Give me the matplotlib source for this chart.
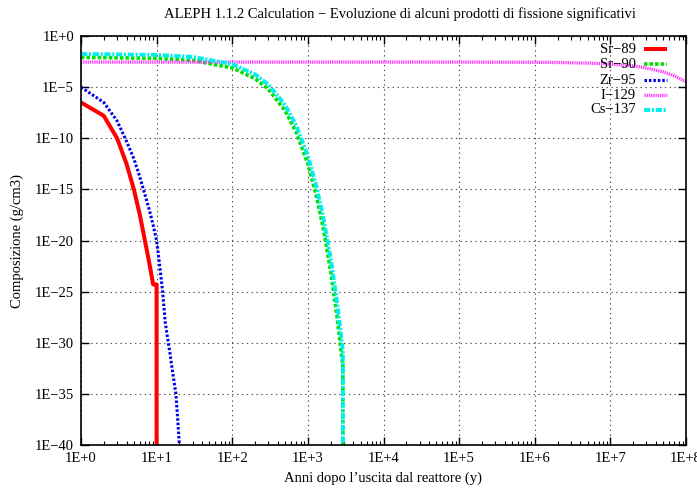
import numpy as np
import matplotlib
matplotlib.use("Agg")
import matplotlib.pyplot as plt
from matplotlib.ticker import FixedLocator, FuncFormatter, LogLocator, NullFormatter
from matplotlib.lines import Line2D

plt.rcParams['font.family'] = ['Liberation Serif', 'DejaVu Serif']
plt.rcParams['lines.scale_dashes'] = False

# anni dopo l'uscita dal reattore, log10 della composizione
sr89_t = [1, 2, 3, 4, 5, 6, 7, 8, 9, 10, 10]
sr89_y = [-6.5, -7.8, -10.0, -12.5, -15.0, -17.5, -20.0, -22.2, -24.3, -24.3, -45]

zr95_t = [1, 2, 3, 4, 5, 6, 7, 8, 9, 10, 11, 12, 13, 14, 15, 16, 17, 18, 19, 20]
zr95_y = [-5.0, -6.5, -8.3, -10.3, -12.0, -13.8, -15.5, -17.0, -18.5, -20.0,
          -22.5, -25.0, -28.0, -29.6, -31.0, -32.5, -33.8, -35.0, -37.5, -40.0]

sr90_t = [1, 10, 30, 100, 200, 300, 500, 700, 1000, 1300, 1600, 2000, 2400, 2900, 2900]
sr90_y = [-2.09, -2.18, -2.39, -3.12, -4.17, -5.2, -7.3, -9.4, -12.5, -15.7,
          -18.8, -23.0, -27.1, -32.3, -45]

cs137_t = [1, 10, 30, 100, 200, 300, 500, 700, 1000, 1300, 1600, 2000, 2400, 2900, 2900]
cs137_y = [-1.76, -1.85, -2.05, -2.75, -3.75, -4.75, -6.75, -8.75, -11.75, -14.75,
           -17.75, -21.75, -25.75, -30.75, -45]

i129_t = [1, 1e4, 1e5, 1e6, 2e6, 5e6, 1e7, 2e7, 3e7, 5e7, 7e7, 1e8]
i129_y = [-2.55, -2.55, -2.55, -2.57, -2.59, -2.65, -2.74, -2.93, -3.13, -3.51, -3.89, -4.47]

labels = ['Sr\u221289', 'Sr\u221290', 'Zr\u221295', 'I\u2212129', 'Cs\u2212137']
colors = ['#ff0000', '#00e000', '#0000ee', '#ff33ff', '#00eeee']
styles = [dict(lw=2.9, ls='-'),
          dict(lw=2.6, ls=(0, (2.5, 1.5))),
          dict(lw=2.2, ls=(0, (1.8, 1.4))),
          dict(lw=2.4, ls=(0, (0.9, 0.7))),
          dict(lw=2.8, ls=(0, (4.5, 1.2, 1.5, 1.2)))]

series = [(sr89_t, sr89_y), (sr90_t, sr90_y), (zr95_t, zr95_y),
          (i129_t, i129_y), (cs137_t, cs137_y)]

FS = 10.5

fig = plt.figure(figsize=(6.97, 4.88), dpi=100)
ax = fig.add_axes([81 / 697, 1 - 445 / 488, 605 / 697, 409 / 488])

for (t, y), c, st in zip(series, colors, styles):
    ax.plot(t, 10.0 ** np.array(y), color=c, solid_capstyle='butt',
            dash_capstyle='butt', **st)

ax.set_xscale('log')
ax.set_yscale('log')
ax.set_xlim(1, 1e8)
ax.set_ylim(1e-40, 1)

ax.xaxis.set_major_locator(FixedLocator([10.0 ** k for k in range(0, 9)]))
ax.xaxis.set_minor_locator(LogLocator(base=10, subs=np.arange(2, 10), numticks=20))
ax.xaxis.set_minor_formatter(NullFormatter())
ax.yaxis.set_major_locator(FixedLocator([10.0 ** k for k in range(-40, 1, 5)]))
ax.yaxis.set_minor_locator(FixedLocator([]))


def fmt(v, pos):
    e = int(round(np.log10(v)))
    return '1E+%d' % e if e >= 0 else '1E\u2212%d' % (-e)


ax.xaxis.set_major_formatter(FuncFormatter(fmt))
ax.yaxis.set_major_formatter(FuncFormatter(fmt))
ax.tick_params(which='both', direction='in', top=True, right=True, labelsize=FS, pad=5)
ax.tick_params(which='major', length=6, width=1)
ax.tick_params(which='minor', length=3, width=0.8)

ax.grid(True, which='major', color='#505050', lw=0.8, ls=(0, (1, 2.5)))
for s in ax.spines.values():
    s.set_linewidth(1.2)

ax.set_xlabel("Anni dopo l\u2019uscita dal reattore (y)", fontsize=FS, labelpad=5)
ax.set_ylabel("Composizione (g/cm3)", fontsize=FS, labelpad=8)
fig.text(400 / 697, 1 - 14 / 488,
         "ALEPH 1.1.2 Calculation \u2212 Evoluzione di alcuni prodotti di fissione significativi",
         ha='center', va='center', fontsize=FS)

# legenda in stile gnuplot: testo allineato a destra, campione a destra
rows = [0.9675, 0.9308, 0.8924, 0.855, 0.8191]
for lab, c, st, yy in zip(labels, colors, styles, rows):
    ax.text(0.917, yy, lab, transform=ax.transAxes, ha='right', va='center', fontsize=FS)
    ax.add_line(Line2D([0.9306, 0.9686], [yy, yy], transform=ax.transAxes, color=c,
                       solid_capstyle='butt', dash_capstyle='butt', **st))

fig.savefig('out.png', dpi=100)
